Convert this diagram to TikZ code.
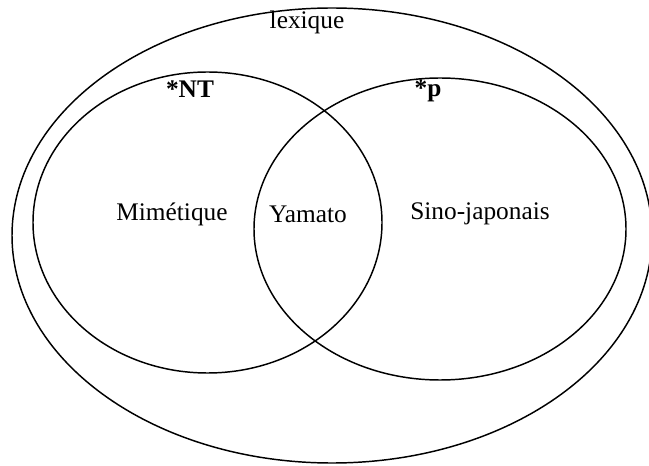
\documentclass[tikz,border=0pt]{standalone}
\usepackage{fontspec}
\setmainfont{Liberation Serif}
\begin{document}
\begin{tikzpicture}[x=0.75pt,y=-0.75pt,
  set/.style={line width=1.1pt},
  lbl/.style={font=\fontsize{19}{21}\selectfont, inner sep=0pt},
  tag/.style={font=\fontsize{19}{21}\selectfont\bfseries, inner sep=0pt}]
\useasboundingbox (0,0) rectangle (649,466);
\draw[set] (332,235.5) ellipse [x radius=320, y radius=227.5];
\draw[set] (207.5,222.5) ellipse [x radius=174.5, y radius=150.5];
\draw[set] (440,229) ellipse [x radius=186, y radius=151];
\node[lbl] (lex) at (307,22) {lexique};
\node[tag] (nt) at (190,89) {*NT};
\node[tag] (p) at (428,91) {*p};
\node[lbl] (mim) at (172,214) {Mimétique};
\node[lbl] (yam) at (308,214) {Yamato};
\node[lbl] (sino) at (480,214) {Sino-japonais};
\end{tikzpicture}
\end{document}
